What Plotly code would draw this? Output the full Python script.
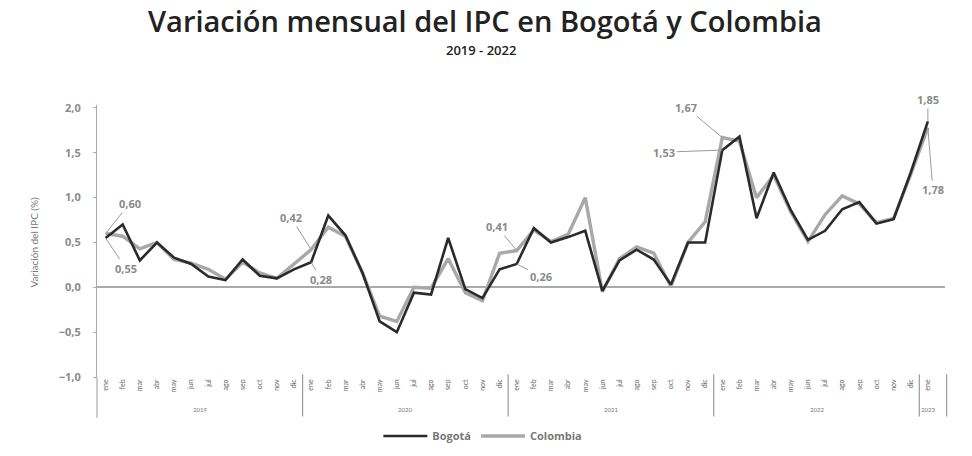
import plotly.graph_objects as go

# Monthly CPI variation (%), January 2019 to January 2023
years = ["2019", "2020", "2021", "2022", "2023"]
months = ["ene", "feb", "mar", "abr", "may", "jun", "jul", "ago", "sep", "oct", "nov", "dic"]

bogota = [
    0.55, 0.70, 0.30, 0.50, 0.33, 0.26, 0.12, 0.08, 0.31, 0.13, 0.10, 0.20,
    0.28, 0.80, 0.58, 0.16, -0.38, -0.50, -0.06, -0.08, 0.55, -0.02, -0.12, 0.20,
    0.26, 0.66, 0.50, 0.56, 0.63, -0.04, 0.30, 0.42, 0.31, 0.03, 0.50, 0.50,
    1.53, 1.68, 0.77, 1.28, 0.86, 0.53, 0.63, 0.87, 0.95, 0.71, 0.76, 1.28,
    1.85,
]
colombia = [
    0.60, 0.57, 0.43, 0.50, 0.31, 0.27, 0.20, 0.09, 0.28, 0.16, 0.10, 0.26,
    0.42, 0.67, 0.57, 0.16, -0.32, -0.38, 0.00, -0.01, 0.32, -0.06, -0.15, 0.38,
    0.41, 0.64, 0.51, 0.59, 1.00, -0.05, 0.32, 0.45, 0.38, 0.01, 0.50, 0.73,
    1.67, 1.63, 1.00, 1.25, 0.84, 0.51, 0.81, 1.02, 0.93, 0.72, 0.77, 1.26,
    1.78,
]

n = len(bogota)
x_idx = list(range(n))
tick_text = [months[i % 12] for i in range(n)]

# January points carry value labels: (series, index, dx, dy)
label_specs = [
    (colombia, 0, 24, -30), (bogota, 0, 20, 30),
    (colombia, 12, -20, -32), (bogota, 12, 10, 17),
    (colombia, 24, -20, -24), (bogota, 24, 24, 12),
    (colombia, 36, -36, -30), (bogota, 36, -58, 2),
    (bogota, 48, 0, -22), (colombia, 48, 5, 62),
]

GREY_TXT = "#8a8a8a"
FONT = "Lato"
WIDE = "Open Sans"

fig = go.Figure()
fig.add_trace(go.Scatter(
    x=x_idx, y=colombia, name="Colombia", mode="lines",
    line=dict(color="#a8a8a8", width=3.4), legendrank=2,
))
fig.add_trace(go.Scatter(
    x=x_idx, y=bogota, name="Bogotá", mode="lines",
    line=dict(color="#2a2a2a", width=2.6), legendrank=1,
))

annotations = []
for series, i, dx, dy in label_specs:
    annotations.append(dict(
        x=i, y=series[i], xref="x", yref="y",
        text=f"<b>{series[i]:.2f}</b>".replace(".", ","),
        showarrow=True, arrowhead=0, arrowwidth=1, arrowcolor="#9a9a9a",
        ax=dx, ay=dy, font=dict(family=WIDE, size=11, color=GREY_TXT),
    ))

PLOT_LEFT, PLOT_RIGHT = 97, 945
PLOT_TOP, PLOT_BOTTOM = 105, 377
plot_w = PLOT_RIGHT - PLOT_LEFT
plot_h = PLOT_BOTTOM - PLOT_TOP


def paper_x(px):
    return (px - PLOT_LEFT) / plot_w


def paper_y(px):
    return (PLOT_BOTTOM - px) / plot_h


# Title and subtitle
annotations.append(dict(
    x=paper_x(485), y=paper_y(41), xref="paper", yref="paper",
    xanchor="center", yanchor="bottom", borderpad=0,
    showarrow=False, text="Variación mensual del IPC en Bogotá y Colombia",
    font=dict(family=WIDE, size=29, color="#222", weight=600),
))
annotations.append(dict(
    x=paper_x(481), y=paper_y(40), xref="paper", yref="paper",
    xanchor="center", yanchor="top", borderpad=0,
    showarrow=False, text="2019 - 2022",
    font=dict(family=WIDE, size=13, color="#222", weight=600),
))

# Year labels under the month ticks
year_centers = [5.5, 17.5, 29.5, 41.5, 48]
for yr, xc in zip(years, year_centers):
    annotations.append(dict(
        x=xc, y=-0.14, xref="x", yref="paper", text=yr, showarrow=False,
        font=dict(family=FONT, size=6, color="#777"),
    ))

# Axis title
annotations.append(dict(
    x=paper_x(34), y=0.5, xref="paper", yref="y", xanchor="center",
    text="Variación del IPC (%)", textangle=-90, showarrow=False,
    font=dict(family=FONT, size=10, color="#777"),
))

shapes = []
for sep in [11.5, 23.5, 35.5, 47.5]:
    shapes.append(dict(type="line", xref="x", yref="paper", x0=sep, x1=sep,
                       y0=0.01, y1=-0.145, line=dict(color="#999", width=1.2)))
shapes.append(dict(type="line", xref="paper", yref="paper", x0=1.002, x1=1.002,
                   y0=0.01, y1=-0.145, line=dict(color="#999", width=1.2)))
shapes.append(dict(type="line", xref="paper", yref="paper", x0=0, x1=0,
                   y0=0, y1=-0.15, line=dict(color="#aaa", width=1.2)))

fig.update_layout(
    width=972, height=456,
    margin=dict(l=PLOT_LEFT, r=972 - PLOT_RIGHT, t=PLOT_TOP, b=456 - PLOT_BOTTOM,
                autoexpand=False),
    paper_bgcolor="white", plot_bgcolor="white",
    separators=",.",
    showlegend=True,
    legend=dict(
        orientation="h", x=0.455, xanchor="center",
        yref="container", y=(456 - 436) / 456, yanchor="middle",
        font=dict(family=WIDE, size=11, color="#777", weight="bold"),
        itemwidth=44, bgcolor="rgba(0,0,0,0)",
    ),
    xaxis=dict(
        range=[-0.5, 49], tickmode="array", tickvals=x_idx, ticktext=tick_text,
        tickangle=-90, tickfont=dict(family=FONT, size=7, color="#666"),
        showgrid=False, showline=False, zeroline=False, ticks="", automargin=False,
    ),
    yaxis=dict(
        range=[-1.0, 2.033], tickvals=[-1.0, -0.5, 0.0, 0.5, 1.0, 1.5, 2.0],
        tickformat=".1f", tickfont=dict(family=WIDE, size=11, color=GREY_TXT, weight="bold"),
        showgrid=False, showline=True, linecolor="#aaa", linewidth=1.2,
        ticks="outside", ticklen=3, tickcolor="#aaa", ticklabelstandoff=10,
        zeroline=True, zerolinecolor="#aaa", zerolinewidth=1.5, automargin=False,
    ),
    annotations=annotations, shapes=shapes,
)

fig.write_html("out.html")
